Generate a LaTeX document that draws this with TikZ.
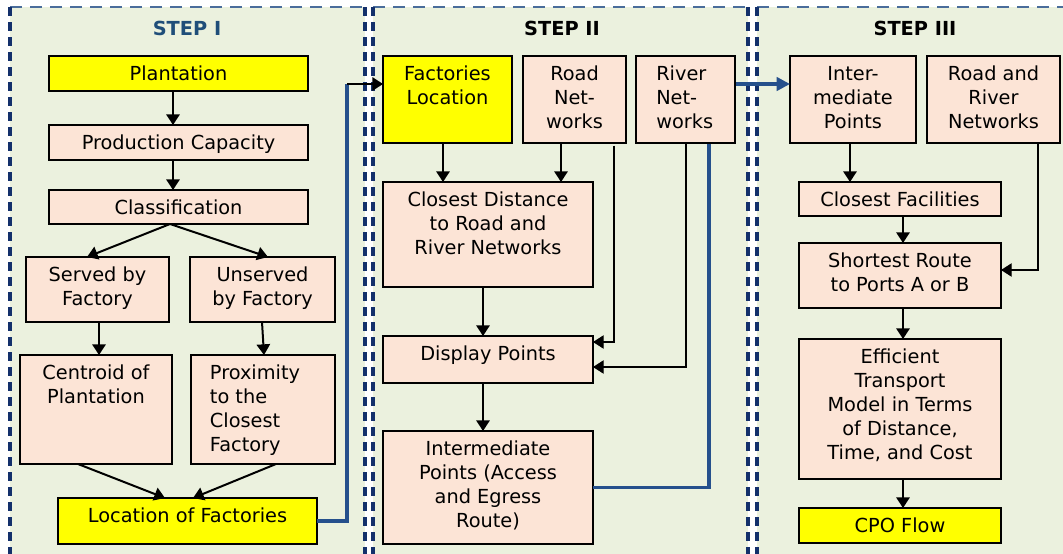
\documentclass[tikz,border=0pt]{standalone}
\usepackage{fontspec}
\setmainfont{DejaVu Sans}
\usetikzlibrary{arrows.meta,calc}
\definecolor{bg}{HTML}{EBF1DE}
\definecolor{peach}{HTML}{FCE4D6}
\definecolor{navy}{HTML}{13306B}
\definecolor{lblue}{HTML}{4A6D9B}
\definecolor{blu}{HTML}{25508C}
\definecolor{ttl}{HTML}{1F4E79}
\definecolor{yel}{HTML}{FFFF00}
\newcommand\mybox[9]{%
  \node[#6, minimum width={(#4-#2)*0.75pt}, minimum height={(#5-#3)*0.75pt},
        label={[#7]#8:{#9}}] (#1) at ({(#2+#4)/2},{(#3+#5)/2}) {};}
\begin{document}
\begin{tikzpicture}[x=0.75pt,y=-0.75pt,
  fnt/.style={font=\fontsize{14.5}{18}\selectfont},
  box/.style={draw=black, line width=1.5pt, fill=peach, inner sep=0pt, outer sep=0pt},
  ybox/.style={box, fill=yel},
  txt/.style={fnt, inner sep=0pt, align=center, anchor=north, yshift=-7.5pt},
  txtl/.style={fnt, inner sep=0pt, align=left, anchor=north west, yshift=-7.5pt},
  ttlstyle/.style={font=\fontsize{14.5}{18}\selectfont\bfseries, inner sep=0pt},
  arr/.style={line width=1.5pt, -{Triangle[width=10pt,length=8pt]}},
  tarr/.style={line width=1pt, -{Triangle[width=10pt,length=8pt]}},
  bline/.style={line width=2.4pt, blu},
  vdash/.style={navy, line width=2.3pt, dash pattern=on 6.75pt off 4.5pt},
  hdash/.style={lblue, line width=1.6pt, dash pattern=on 9pt off 6pt}
]
\useasboundingbox (0,0) rectangle (1063,553);
% panels
\fill[bg] (10,7) rectangle (365,560);
\fill[bg] (373,7) rectangle (748,560);
\fill[bg] (757,7) rectangle (1075,560);
\draw[hdash] (10,7) -- (365,7);
\draw[hdash] (373,7) -- (748,7);
\draw[hdash] (757,7) -- (1075,7);
\draw[vdash] (10,7) -- (10,560);
\draw[vdash] (365,7) -- (365,560);
\draw[vdash] (373,7) -- (373,560);
\draw[vdash] (748,7) -- (748,560);
\draw[vdash] (757,7) -- (757,560);
% titles
\node[ttlstyle, text=ttl] (t1) at (187,28) {STEP I};
\node[ttlstyle] (t2) at (562,28) {STEP II};
\node[ttlstyle] (t3) at (915,28) {STEP III};
% coordinates for blue connectors
\coordinate (bc1) at (347,84);
\coordinate (bc2) at (709,84);
% boxes of step I
\mybox{pl}{49}{56}{308}{91}{ybox}{txt}{north}{Plantation}
\mybox{pc}{49}{125}{308}{160}{box}{txt}{north}{Production Capacity}
\mybox{cl}{49}{190}{308}{224}{box}{txt}{north}{Classification}
\mybox{sv}{26}{257}{169}{322}{box}{txt}{north}{Served by\\Factory}
\mybox{us}{190}{257}{335}{322}{box}{txt}{north}{Unserved\\by Factory}
\mybox{ce}{20}{355}{172}{464}{box}{txt}{north}{Centroid of\\Plantation}
\mybox{px}{191}{355}{335}{464}{box}{txtl,xshift=14pt}{north west}{Proximity\\to the\\Closest\\Factory}
\mybox{lf}{58}{498}{317}{544}{ybox}{txt}{north}{Location of Factories}
% blue connector step I -> II
\draw[bline] (lf.east) -| (bc1);
\mybox{im}{790}{56}{916}{143}{box}{txt}{north}{Inter-\\mediate\\Points}
\mybox{ip}{383}{431}{593}{544}{box}{txt}{north}{Intermediate\\Points (Access\\and Egress\\Route)}
\draw[bline, -{Triangle[width=10pt,length=10pt]}] (ip.east) -| (bc2) -- (im.west |- bc2);
% step II boxes
\mybox{fl}{383}{56}{512}{143}{ybox}{txt}{north}{Factories\\Location}
\mybox{rd}{523}{56}{626}{143}{box}{txt}{north}{Road\\Net-\\works}
\mybox{rv}{636}{56}{735}{143}{box}{txtl,xshift=15pt}{north west}{River\\Net-\\works}
\mybox{cd}{383}{182}{593}{287}{box}{txt}{north}{Closest Distance\\to Road and\\River Networks}
\mybox{dp}{383}{336}{593}{383}{box}{txt}{north}{Display Points}
% step III boxes
\mybox{rr}{927}{56}{1060}{143}{box}{txt}{north}{Road and\\River\\Networks}
\mybox{cf}{799}{182}{1001}{216}{box}{txt}{north}{Closest Facilities}
\mybox{sr}{799}{243}{1001}{308}{box}{txt}{north}{Shortest Route\\to Ports A or B}
\mybox{ef}{799}{339}{1001}{479}{box}{txt}{north}{Efficient\\Transport\\Model in Terms\\of Distance,\\Time, and Cost}
\mybox{cpo}{799}{508}{1001}{543}{ybox}{txt}{north}{CPO Flow}
% step I arrows
\draw[arr] (pl.south -| 173,0) -- (pc.north -| 173,0);
\draw[arr] (pc.south -| 173,0) -- (cl.north -| 173,0);
\draw[arr] (cl.south -| 170,0) -- (sv.north -| 87,0);
\draw[arr] (cl.south -| 170,0) -- (us.north -| 268,0);
\draw[arr] (sv.south -| 99,0) -- (ce.north -| 99,0);
\draw[arr] (us.south -| 262,0) -- (px.north -| 264,0);
\draw[arr] (ce.south -| 78,0) -- (lf.north -| 165,0);
\draw[arr] (px.south -| 276,0) -- (lf.north -| 193,0);
\draw[arr] (bc1) -- (fl.west |- bc1);
% step II arrows
\draw[arr] (fl.south -| 443,0) -- (cd.north -| 443,0);
\draw[arr] (rd.south -| 561,0) -- (cd.north -| 561,0);
\draw[tarr] ([yshift=-2pt]rd.south -| 614,0) |- ($(dp.north east)+(0,6)$);
\draw[tarr] (rv.south -| 686,0) |- ($(dp.north east)+(0,31)$);
\draw[arr] (cd.south -| 483,0) -- (dp.north -| 483,0);
\draw[arr] (dp.south -| 483,0) -- (ip.north -| 483,0);
% step III arrows
\draw[arr] (im.south -| 850,0) -- (cf.north -| 850,0);
\draw[arr] (cf.south -| 903,0) -- (sr.north -| 903,0);
\draw[tarr] (rr.south -| 1038,0) |- ($(sr.north east)+(0,27)$);
\draw[arr] (sr.south -| 903,0) -- (ef.north -| 903,0);
\draw[arr] (ef.south -| 903,0) -- (cpo.north -| 903,0);
\end{tikzpicture}
\end{document}
